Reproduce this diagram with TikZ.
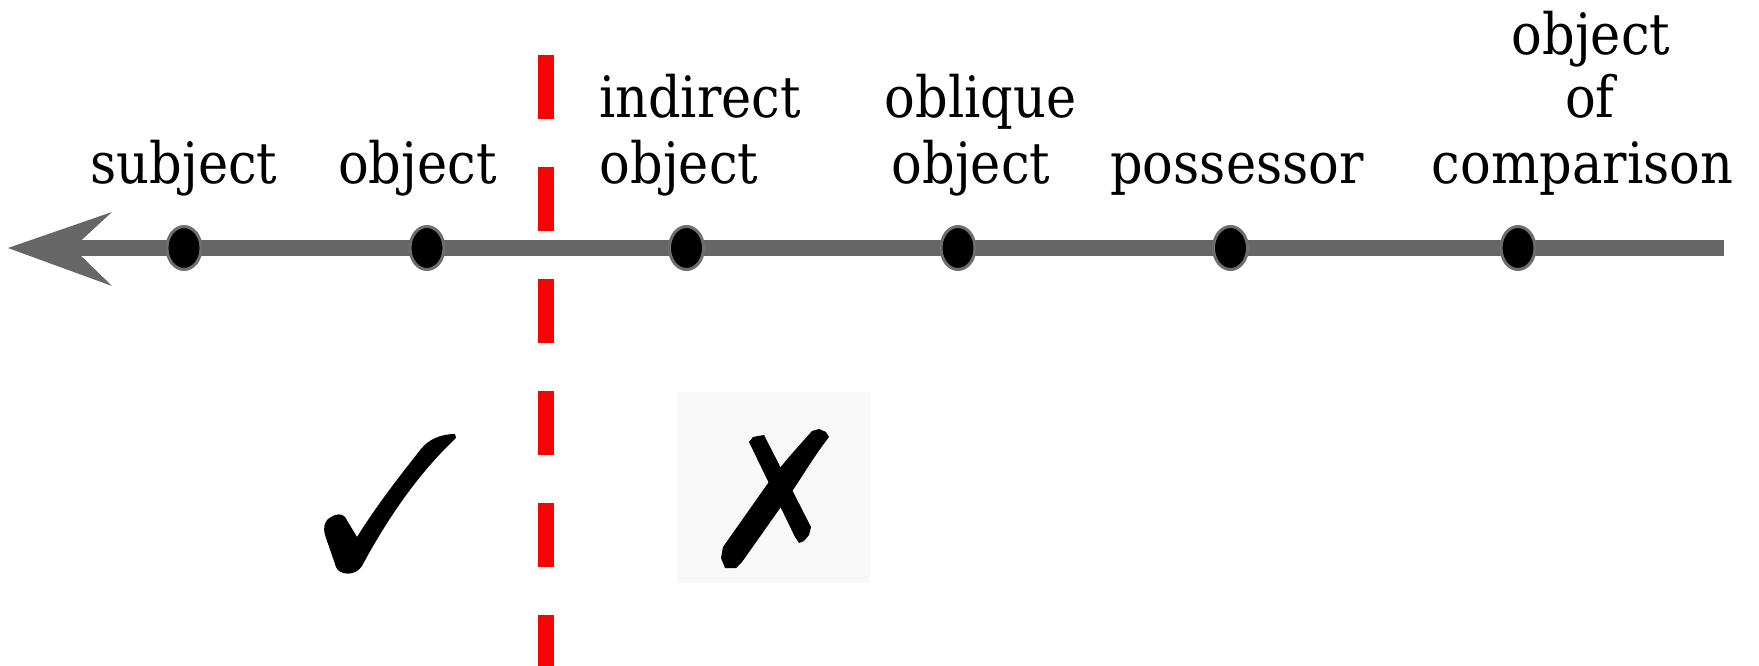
\documentclass[tikz,border=0pt]{standalone}
\usepackage{fontspec}
\setmainfont{DejaVu Serif}[FakeStretch=0.895]
\usetikzlibrary{shapes.geometric}
\definecolor{axisgray}{HTML}{666666}
\definecolor{dotgray}{HTML}{6E6E6E}
\definecolor{boxgray}{HTML}{F8F8F8}
\definecolor{dashred}{HTML}{FF0000}
\tikzset{
  lbl/.style={anchor=base, inner sep=0pt, font=\fontsize{57}{64}\selectfont},
  dot/.style={ellipse, fill=black, draw=dotgray, line width=3pt,
              minimum width=34pt, minimum height=43pt, inner sep=0pt},
  axis/.style={draw=axisgray, line width=16pt},
  divider/.style={draw=dashred, line width=16pt, dash pattern=on 64pt off 48pt},
  glyph/.style={fill=black}
}
\begin{document}
\begin{tikzpicture}[x=1pt, y=-1pt]
\useasboundingbox (0,0) rectangle (1759,666);
% divider
\coordinate (rtop) at (546,55);
\coordinate (rbot) at (546,666);
\draw[divider] (rtop) -- (rbot);
% axis
\coordinate (tip) at (8,248);
\coordinate (notch) at (73,248);
\coordinate (rend) at (1724,248);
\draw[axis] (notch) -- (rend);
\fill[axisgray] (tip) -- (112,212) -- (notch) -- (112,286) -- cycle;
% dots
\node[dot] (d1) at (184,248) {};
\node[dot] (d2) at (427,248) {};
\node[dot] (d3) at (686.5,248) {};
\node[dot] (d4) at (958,248) {};
\node[dot] (d5) at (1230.5,248) {};
\node[dot] (d6) at (1518,248) {};
% labels
\node[lbl] (l1) at (184,183) {subject};
\node[lbl] (l2) at (417.5,183) {object};
\node[lbl] (l3a) at (700,118) {indirect};
\node[lbl] (l3b) at (679,183) {object};
\node[lbl] (l4a) at (980.5,118) {oblique};
\node[lbl] (l4b) at (971,183) {object};
\node[lbl] (l5) at (1237,183) {possessor};
\node[lbl] (l6a) at (1591,55) {object};
\node[lbl] (l6b) at (1590,118) {of};
\node[lbl] (l6c) at (1582.5,183) {comparison};
% check mark
\fill[glyph] (455,434) .. controls (440,434) and (428,440) .. (421,449)
  .. controls (398,478) and (375,508) .. (357,537)
  -- (345,517)
  .. controls (342,513) and (336,514) .. (331,517)
  .. controls (324,521) and (323,527) .. (325,535)
  -- (336,567)
  .. controls (339,575) and (355,577) .. (362,566)
  .. controls (392,510) and (424,468) .. (456,438)
  -- cycle;
% cross box
\fill[boxgray] (677,392) rectangle (870,583);
\fill[glyph] (812,431) -- (819,429) -- (826,432) -- (829,437)
  .. controls (815,455) and (805,472) .. (795,487)
  -- (742,562) -- (736,568) -- (725,568) -- (721,558) -- (723,547)
  -- (766,486) .. controls (785,460) and (800,445) .. (812,431) -- cycle;
\fill[glyph] (749,442) -- (753,437) -- (758,436) -- (764,435)
  -- (811,527) -- (809,535) -- (804,541) -- (799,543) -- (795,537) -- cycle;
\end{tikzpicture}
\end{document}
